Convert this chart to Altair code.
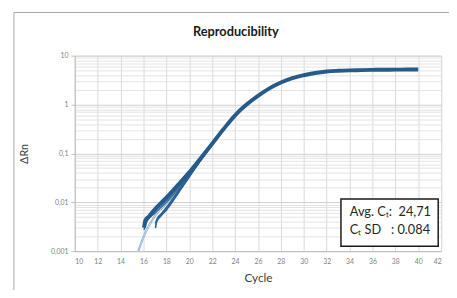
import altair as alt
import pandas as pd

# ---------------- data ----------------
x_ticks = list(range(10, 43, 2))
y_major = [0.001, 0.01, 0.1, 1, 10]
y_minor = [m * d for d in [0.001, 0.01, 0.1, 1] for m in range(2, 10)]

# main (thick) amplification curve
main_cycles = [16.05, 16.15, 16.5, 17, 17.5, 18, 19, 20, 21, 22, 23, 24, 25, 26, 27, 28,
               29, 30, 31, 32, 33, 34, 35, 36, 37, 38, 39, 40]
main_values = [0.0030, 0.0042, 0.0052, 0.0072, 0.0095, 0.0125, 0.0225, 0.041, 0.080,
               0.158, 0.316, 0.603, 1.00, 1.51, 2.14, 2.82, 3.47, 3.98, 4.42, 4.73,
               4.90, 5.01, 5.07, 5.13, 5.15, 5.18, 5.20, 5.22]

# thin replicates (early part, merging into the main band)
repB_cycles = [16.05, 16.3, 17, 18, 19, 20, 21, 22, 23]
repB_values = [0.0036, 0.0046, 0.0066, 0.0110, 0.0200, 0.038, 0.076, 0.155, 0.316]
repC_cycles = [16.05, 16.3, 17, 18, 19, 20, 21, 22, 23]
repC_values = [0.0027, 0.0040, 0.0060, 0.0100, 0.0185, 0.036, 0.073, 0.152, 0.310]

# replicates that start one cycle later (hooks at cycle 17)
repD_cycles = [17.05, 17.15, 17.5, 18, 19, 20, 21, 22, 23]
repD_values = [0.0030, 0.0040, 0.0052, 0.0070, 0.0150, 0.033, 0.072, 0.152, 0.310]
repE_cycles = [17.05, 17.2, 17.5, 18, 19, 20, 21, 22, 23]
repE_values = [0.0037, 0.0046, 0.0056, 0.0078, 0.0165, 0.035, 0.074, 0.154, 0.312]

# faint replicates rising from the bottom of the axis
repF_cycles = [15.5, 16, 16.5, 17, 18, 19, 20, 21, 22]
repF_values = [0.0010, 0.0021, 0.0036, 0.0055, 0.0095, 0.0180, 0.035, 0.072, 0.150]
repG_cycles = [15.6, 16, 16.5, 17, 18, 19, 20, 21, 22]
repG_values = [0.0010, 0.0018, 0.0032, 0.0050, 0.0090, 0.0175, 0.034, 0.071, 0.150]

box_line1 = "Avg. C\u209c:\u00a0\u00a024,71"
box_line2 = "C\u209c SD\u00a0\u00a0\u00a0: 0.084"
title_text = "Reproducibility"


def frame(name, cycles, values):
    return pd.DataFrame({"cycle": cycles, "value": values, "rep": name})


df_main = frame("A", main_cycles, main_values)
df_thin = pd.concat([frame("B", repB_cycles, repB_values),
                     frame("C", repC_cycles, repC_values)])
df_hook = pd.concat([frame("D", repD_cycles, repD_values),
                     frame("E", repE_cycles, repE_values)])
df_faint = pd.concat([frame("F", repF_cycles, repF_values),
                      frame("G", repG_cycles, repG_values)])

# ---------------- encodings ----------------
is_major = "indexof([0.001,0.01,0.1,1,10], datum.value) >= 0"

x_enc = alt.X(
    "cycle:Q",
    scale=alt.Scale(domain=[10, 42], nice=False, zero=False),
    axis=alt.Axis(
        values=x_ticks, title="Cycle", grid=True, gridColor="#d9d9d9", gridWidth=1,
        tickSize=0, labelPadding=7, labelFontSize=7, labelColor="#7f7f7f",
        labelFont="Lato", domainColor="#bfbfbf", titleFont="Lato", titleFontSize=12,
        titleFontWeight="normal", titleColor="#404040", titleBaseline="alphabetic",
        titleY=31, labelOverlap=False, labelSeparation=0,
    ),
)

y_enc = alt.Y(
    "value:Q",
    scale=alt.Scale(type="log", domain=[0.001, 10], nice=False),
    axis=alt.Axis(
        values=sorted(y_major + y_minor), title="\u0394Rn", grid=True,
        gridColor={"condition": {"test": is_major, "value": "#cfcfcf"}, "value": "#e2e2e2"},
        gridWidth=1,
        tickSize=4, tickColor="#bfbfbf",
        tickOpacity={"condition": {"test": is_major, "value": 1}, "value": 0},
        labelExpr=f"{is_major} ? replace(format(datum.value, '~f'), '.', ',') : ''",
        labelPadding=3, labelFontSize=7, labelColor="#7f7f7f", labelFont="Lato",
        labelOverlap=False, domainColor="#bfbfbf",
        titleFont="Lato", titleFontSize=11, titleFontWeight="normal",
        titleColor="#404040", titleX=-46, titleY=99.5,
    ),
)

base_line = dict(interpolate="monotone", clip=True)

faint = alt.Chart(df_faint).mark_line(color="#8eaecf", strokeWidth=1, **base_line).encode(
    x=x_enc, y=y_enc, detail="rep:N")
thin = alt.Chart(df_thin).mark_line(color="#3a6d9c", strokeWidth=1.5, **base_line).encode(
    x=x_enc, y=y_enc, detail="rep:N")
hook = alt.Chart(df_hook).mark_line(color="#2b5f90", strokeWidth=1.7, **base_line).encode(
    x=x_enc, y=y_enc, detail="rep:N")
main = alt.Chart(df_main).mark_line(color="#255a8b", strokeWidth=4, **base_line).encode(
    x=x_enc, y=y_enc)

dummy = pd.DataFrame({"k": [0]})
border_left = alt.Chart(dummy).mark_rule(color="#a6a6a6", strokeWidth=1).encode(
    x=alt.value(-62), y=alt.value(-44), y2=alt.value(260))
border_top = alt.Chart(dummy).mark_rule(color="#a6a6a6", strokeWidth=1).encode(
    x=alt.value(-62), x2=alt.value(400), y=alt.value(-44))

title_mark = alt.Chart(dummy).mark_text(
    align="center", baseline="alphabetic", font="Lato", fontSize=13, fontWeight="bold",
    color="#1a1a1a",
).encode(x=alt.value(164), y=alt.value(-20), text=alt.value(title_text))

box = alt.Chart(dummy).mark_rect(fill="white", stroke="#1a1a1a", strokeWidth=1.5).encode(
    x=alt.value(271), x2=alt.value(370), y=alt.value(146), y2=alt.value(194))

text_style = dict(align="left", baseline="middle", font="Lato", fontSize=13, color="#262626")
box_t1 = alt.Chart(dummy).mark_text(**text_style).encode(
    x=alt.value(280), y=alt.value(159), text=alt.value(box_line1))
box_t2 = alt.Chart(dummy).mark_text(**text_style).encode(
    x=alt.value(280), y=alt.value(178), text=alt.value(box_line2))

chart = alt.layer(
    faint, thin, hook, main, border_left, border_top, title_mark, box, box_t1, box_t2
).properties(
    width=373,
    height=199,
    padding={"left": 68, "top": 46, "right": 8, "bottom": 37},
    autosize=alt.AutoSizeParams(type="none"),
).configure_view(strokeWidth=0).configure_axis(labelOverlap=False).configure(
    background="white")

chart.save("out.html", embed_options={"renderer": "svg", "actions": False})
